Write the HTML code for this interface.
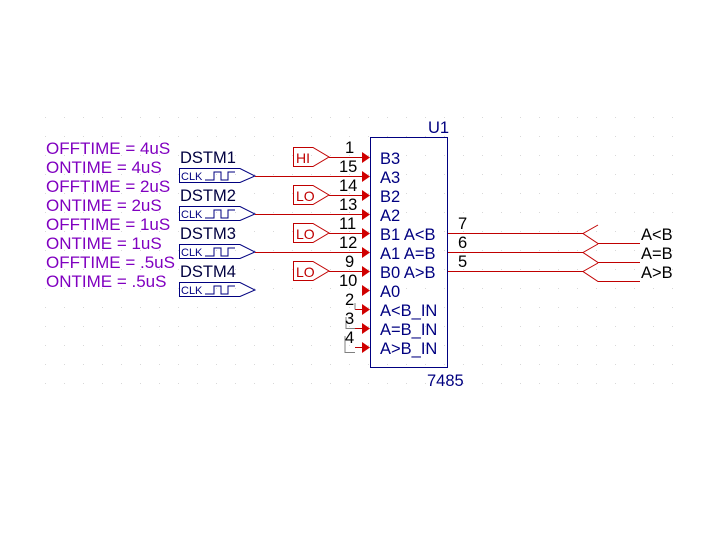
<!DOCTYPE html>
<html><head><style>body{margin:0;background:#fff}svg{display:block}</style></head><body>
<svg width="720" height="540" xmlns="http://www.w3.org/2000/svg" font-family="Liberation Sans, sans-serif">
<defs><pattern id="g" x="45" y="117" width="19" height="19" patternUnits="userSpaceOnUse"><rect x="0" y="0" width="1" height="1" fill="#d8d8d8"/></pattern></defs>
<rect x="40" y="110" width="650" height="280" fill="url(#g)"/>
<g fill="#8000c0" font-size="17">
<text x="46" y="154">OFFTIME = 4uS</text>
<text x="46" y="173">ONTIME = 4uS</text>
<text x="46" y="192">OFFTIME = 2uS</text>
<text x="46" y="211">ONTIME = 2uS</text>
<text x="46" y="230">OFFTIME = 1uS</text>
<text x="46" y="249">ONTIME = 1uS</text>
<text x="46" y="268">OFFTIME = .5uS</text>
<text x="46" y="287">ONTIME = .5uS</text>
</g>
<g fill="#000040" font-size="16.5">
<text x="180" y="163">DSTM1</text><text x="180" y="201">DSTM2</text><text x="180" y="239">DSTM3</text><text x="180" y="277">DSTM4</text>
</g>
<g fill="none" stroke="#000080" stroke-width="1">
<path d="M179.5 168.5H240L255 176L240 182.5H179.5Z"/>
<path d="M179.5 206.5H240L255 214L240 220.5H179.5Z"/>
<path d="M179.5 244.5H240L255 252L240 258.5H179.5Z"/>
<path d="M179.5 282.5H240L255 290L240 296.5H179.5Z"/>
<path d="M205 180H214V172H221V180H228V172H235" />
<path d="M205 218H214V210H221V218H228V210H235" />
<path d="M205 256H214V248H221V256H228V248H235" />
<path d="M205 294H214V286H221V294H228V286H235" />
</g>
<g fill="#000080" font-size="11">
<text x="181" y="180">CLK</text><text x="181" y="218">CLK</text><text x="181" y="256">CLK</text><text x="181" y="294">CLK</text>
</g>
<g fill="none" stroke="#c00000" stroke-width="1">
<path d="M293.5 147.5H313L329 157L313 166.5H293.5Z"/>
<path d="M293.5 185.5H313L329 195L313 204.5H293.5Z"/>
<path d="M293.5 223.5H313L329 233L313 242.5H293.5Z"/>
<path d="M293.5 261.5H313L329 271L313 280.5H293.5Z"/>
</g>
<g fill="#c00000" font-size="14">
<text x="296" y="163">HI</text><text x="296" y="201">LO</text><text x="296" y="239">LO</text><text x="296" y="277">LO</text>
</g>
<g stroke="#c00000" stroke-width="1">
<path d="M329 157.5H362M255 176.5H362M329 195.5H362M255 214.5H362M329 233.5H362M255 252.5H362M329 271.5H362"/>
<path d="M447 233.5H583M447 252.5H583M447 271.5H583"/>
<path d="M598 225L583 233.5L598 243.5H640M598 244L583 252.5L598 262.5H640M598 263L583 271.5L598 281.5H640" fill="none"/>
</g>
<g fill="#d00000">
<path d="M362 152L370 157.5L362 163Z"/><path d="M362 171L370 176.5L362 182Z"/><path d="M362 190L370 195.5L362 201Z"/><path d="M362 209L370 214.5L362 220Z"/><path d="M362 228L370 233.5L362 239Z"/><path d="M362 247L370 252.5L362 258Z"/><path d="M362 266L370 271.5L362 277Z"/><path d="M362 285L370 290.5L362 296Z"/><path d="M362 304L370 309.5L362 315Z"/><path d="M362 323L370 328.5L362 334Z"/><path d="M362 342L370 347.5L362 353Z"/>
</g>
<g stroke="#c00000"><path d="M355 309.5H362M355 328.5H362M355 347.5H362"/></g>
<g stroke="#808080" fill="none"><path d="M355 303V309.5M346 317V328.5H355M345 336V352.5H355"/></g>
<rect x="370.5" y="137.5" width="77" height="230" fill="none" stroke="#000080"/>
<g fill="#000" font-size="16.5">
<text x="345" y="153">1</text><text x="339" y="172">15</text><text x="339" y="191">14</text><text x="339" y="210">13</text><text x="339" y="229">11</text><text x="339" y="248">12</text><text x="345" y="267">9</text><text x="339" y="286">10</text><text x="345" y="305">2</text><text x="345" y="324">3</text><text x="345" y="343">4</text>
<text x="458" y="229">7</text><text x="458" y="248">6</text><text x="458" y="267">5</text>
<text x="641" y="240">A&lt;B</text><text x="641" y="259">A=B</text><text x="641" y="278">A&gt;B</text>
</g>
<g fill="#000080" font-size="16.5">
<text x="428" y="133">U1</text><text x="427" y="386">7485</text>
<text x="380" y="164">B3</text><text x="380" y="183">A3</text><text x="380" y="202">B2</text><text x="380" y="221">A2</text><text x="380" y="240">B1 A&lt;B</text><text x="380" y="259">A1 A=B</text><text x="380" y="278">B0 A&gt;B</text><text x="380" y="297">A0</text><text x="380" y="316">A&lt;B_IN</text><text x="380" y="335">A=B_IN</text><text x="380" y="354">A&gt;B_IN</text>
</g>
</svg>
</body></html>
